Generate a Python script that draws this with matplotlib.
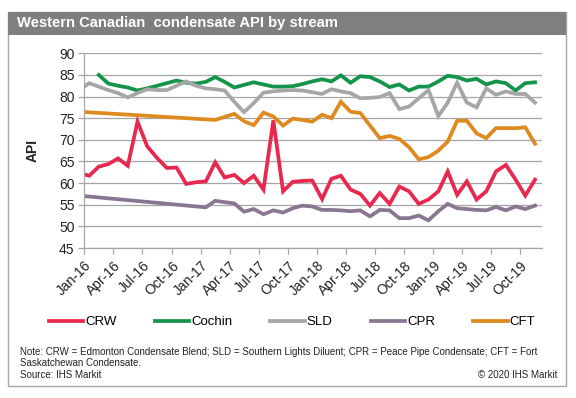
import numpy as np
import pandas as pd
import matplotlib
matplotlib.use("Agg")
import matplotlib.pyplot as plt
import matplotlib.dates as mdates
from matplotlib.patches import Rectangle
from matplotlib.lines import Line2D

plt.rcParams['font.family'] = ['Liberation Sans', 'DejaVu Sans']

# ---- data (monthly, Dec-15 .. Nov-19) ----
start_month = "2015-12-01"
n_months = 48
NA = None

crw = [62.3, 61.7, 63.8, 64.4, 65.7, 64.0, 74.2, 68.5, 65.8, 63.5, 63.6, 59.8, 60.2,
       60.4, 64.8, 61.3, 61.9, 60.0, 61.7, 58.5, 74.5, 58.1, 60.3, 60.5, 60.6,
       56.3, 61.0, 61.7, 58.5, 57.5, 54.8, 57.7, 55.2, 59.2, 58.1, 55.2, 56.2,
       58.1, 62.7, 57.3, 60.4, 56.2, 58.1, 62.7, 64.2, 60.8, 57.1, 60.8]
cochin = [NA, NA, 85.0, 83.0, 82.5, 82.1, 81.4, 81.9, 82.5, 83.1, 83.7, 83.2, 83.0,
          83.4, 84.5, 83.4, 82.1, 82.7, 83.3, 82.8, 82.3, 82.3, 82.4, 82.9, 83.5,
          84.0, 83.5, 84.9, 83.2, 84.7, 84.5, 83.5, 82.2, 82.8, 81.4, 82.3, 82.3,
          83.5, 84.8, 84.5, 83.7, 84.1, 82.8, 83.5, 83.1, 81.4, 83.1, 83.3]
sld = [81.5, 83.1, 82.3, 81.5, 80.8, 79.8, 80.8, 81.7, 81.5, 81.5, 82.5, 83.5, 82.5,
       81.9, 81.7, 81.4, 78.8, 76.4, 78.5, 80.9, 81.2, 81.4, 81.5, 81.4, 81.0,
       80.6, 81.7, 81.2, 80.8, 79.6, 79.7, 79.9, 80.8, 77.1, 77.7, 79.6, 81.5,
       75.5, 78.6, 83.2, 78.6, 77.5, 81.9, 80.4, 81.2, 80.6, 80.6, 78.6]
cpr = [57.1, NA, NA, NA, NA, NA, NA, NA, NA, NA, NA, NA, NA,
       54.4, 55.9, 55.6, 55.3, 53.4, 54.0, 52.8, 53.7, 53.2, 54.2, 54.8, 54.6,
       53.8, 53.8, 53.7, 53.5, 53.7, 52.3, 53.8, 53.7, 51.9, 51.9, 52.5, 51.4,
       53.5, 55.2, 54.2, 54.0, 53.8, 53.7, 54.5, 53.7, 54.6, 54.0, 54.8]
cft = [76.5, NA, NA, NA, NA, NA, NA, NA, NA, NA, NA, NA, NA, NA,
       74.6, 75.3, 76.0, 74.3, 73.4, 76.3, 75.4, 73.3, 74.9, 74.6, 74.2,
       75.8, 75.0, 78.8, 76.5, 76.2, 73.3, 70.4, 70.9, 70.2, 68.3, 65.5, 66.0,
       67.5, 69.6, 74.4, 74.4, 71.5, 70.4, 72.7, 72.7, 72.7, 72.9, 69.1]

series_names = ["CRW", "Cochin", "SLD", "CPR", "CFT"]
series_values = [crw, cochin, sld, cpr, cft]
series_colors = ["#e8294f", "#13944a", "#a6a6a6", "#8a7691", "#de8a1f"]

title = "Western Canadian  condensate API by stream"
note1 = ("Note: CRW = Edmonton Condensate Blend; SLD = Southern Lights Diluent; "
         "CPR = Peace Pipe Condensate; CFT = Fort")
note2 = "Saskatchewan Condensate."
source = "Source: IHS Markit"
copyright_txt = "\u00a9 2020 IHS Markit"

# month mid-points as x values
edges = pd.date_range(start_month, periods=n_months + 1, freq="MS")
mids = edges[:-1] + (edges[1:] - edges[:-1]) / 2
xdates = mids.to_pydatetime()

W, H = 576, 398
fig = plt.figure(figsize=(W / 100, H / 100), dpi=100)
fig.patch.set_facecolor("white")

# border and title bar
fig.add_artist(Rectangle((8 / W, 1 - 386 / H), 558 / W, 374 / H, transform=fig.transFigure,
                         fill=False, edgecolor="#a6a6a6", lw=1.0))
fig.add_artist(Rectangle((8 / W, 1 - 35 / H), 558 / W, 23 / H, transform=fig.transFigure,
                         facecolor="#7f7f7f", edgecolor="none"))
fig.text(17 / W, 1 - 23.5 / H, title, color="white", fontsize=10.6, fontweight="bold",
         va="center", ha="left")

ax = fig.add_axes([84.3 / W, 1 - 248 / H, (541.7 - 84.3) / W, (248 - 53.3) / H])
handles = []
for name, vals, col in zip(series_names, series_values, series_colors):
    y = np.array([np.nan if v is None else v for v in vals], dtype=float)
    m = np.isfinite(y)
    x = np.array(xdates)[m]
    ln, = ax.plot(x, y[m], color=col, lw=2.7, solid_joinstyle="miter", label=name,
                  clip_on=True)
    handles.append(ln)

ax.set_ylim(45, 90)
ax.set_yticks(np.arange(45, 91, 5))
ax.set_xlim(pd.Timestamp("2016-01-01"), pd.Timestamp("2019-12-07"))
ax.xaxis.set_major_locator(mdates.MonthLocator(bymonth=[1, 4, 7, 10]))
ax.xaxis.set_major_formatter(mdates.DateFormatter("%b-%y"))
ax.grid(axis="y", color="#a6a6a6", lw=0.9)
ax.set_axisbelow(True)
for s in ["top", "right"]:
    ax.spines[s].set_visible(False)
for s in ["left", "bottom"]:
    ax.spines[s].set_color("#a6a6a6")
    ax.spines[s].set_linewidth(0.9)
ax.tick_params(axis="both", colors="#a6a6a6", labelcolor="#222222", labelsize=10,
               length=4, width=0.9, direction="out")
ax.tick_params(axis="y", pad=3)
for lab in ax.get_xticklabels():
    lab.set_rotation(45)
    lab.set_ha("right")
    lab.set_va("top")
    lab.set_rotation_mode("anchor")
ax.set_ylabel("API", fontsize=10, fontweight="bold", color="#222222", labelpad=14)

leg_handles = [Line2D([], [], color=h.get_color(), lw=2.7) for h in handles]
fig.legend(leg_handles, series_names, loc="center", bbox_to_anchor=(292 / W, 1 - 322 / H),
           ncol=5, frameon=False, fontsize=9.5, handlelength=2.6, handletextpad=0.15,
           columnspacing=2.9)

fig.text(20 / W, 1 - 352 / H, note1, fontsize=7.0, color="#222222", va="center", ha="left")
fig.text(20 / W, 1 - 363.5 / H, note2, fontsize=7.0, color="#222222", va="center", ha="left")
fig.text(20 / W, 1 - 375 / H, source, fontsize=7.0, color="#222222", va="center", ha="left")
fig.text(557 / W, 1 - 375 / H, copyright_txt, fontsize=7.0, color="#222222", va="center",
         ha="right")

fig.savefig("out.png", dpi=100)
